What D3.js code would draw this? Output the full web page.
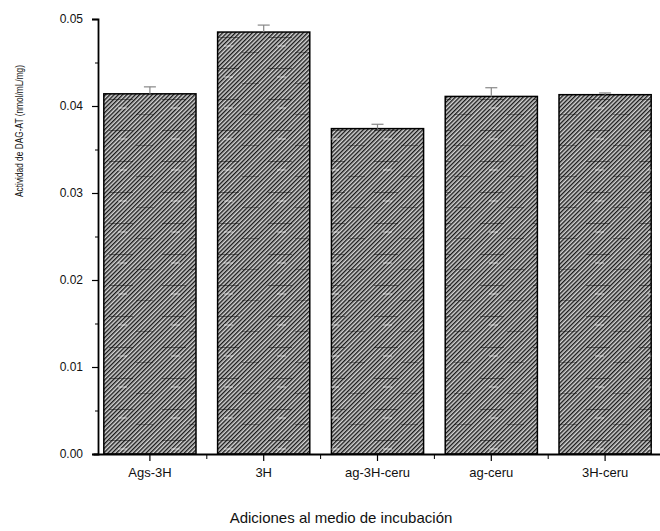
<!DOCTYPE html>
<html>
<head>
<meta charset="utf-8">
<script src="https://cdn.jsdelivr.net/npm/d3@7"></script>
<style>
  body { margin: 0; background: #fff; }
  text { font-family: "Liberation Sans Narrow", "Liberation Sans", Arial, sans-serif; fill: #111; }
</style>
</head>
<body>
<div id="chart"></div>
<script>
// data
var categories = ["Ags-3H", "3H", "ag-3H-ceru", "ag-ceru", "3H-ceru"];
var means = [0.0414, 0.0485, 0.0374, 0.0411, 0.0413];
var errors = [0.0008, 0.0008, 0.0005, 0.0010, 0.0002];
var yTicks = [0, 0.01, 0.02, 0.03, 0.04, 0.05];
var yMinorTicks = [0.005, 0.015, 0.025, 0.035, 0.045];

var width = 660, height = 531;

var svg = d3.select("#chart")
    .append("svg")
    .attr("width", width)
    .attr("height", height);

// hatch like the scan: dense "/" stripes on grey
var defs = svg.append("defs");
var pat = defs.append("pattern")
    .attr("id", "hatch")
    .attr("patternUnits", "userSpaceOnUse")
    .attr("width", 3)
    .attr("height", 3)
    .attr("patternTransform", "rotate(45)");
pat.append("rect").attr("width", 3).attr("height", 3).attr("fill", "#d4d4d4");
pat.append("rect").attr("width", 1.4).attr("height", 3).attr("fill", "#1a1a1a");

// faint horizontal scan streaks
var streaks = defs.append("pattern")
    .attr("id", "streaks")
    .attr("patternUnits", "userSpaceOnUse")
    .attr("width", 53)
    .attr("height", 31);
streaks.append("rect").attr("x", 3).attr("y", 6).attr("width", 24).attr("height", 1).attr("fill", "#000").attr("opacity", 0.45);
streaks.append("rect").attr("x", 30).attr("y", 21).attr("width", 17).attr("height", 1).attr("fill", "#000").attr("opacity", 0.35);
streaks.append("rect").attr("x", 12).attr("y", 14).attr("width", 9).attr("height", 2).attr("fill", "#fff").attr("opacity", 0.35);

var x = d3.scaleBand()
    .domain(categories)
    .range([93, 662])
    .paddingInner(0.19)
    .paddingOuter(0.095);

var y = d3.scaleLinear()
    .domain([0, 0.05])
    .range([454, 19]);

// bars
var bars = svg.selectAll(".bar")
    .data(categories)
    .enter()
    .append("g")
    .attr("class", "bar");

bars.append("rect")
    .attr("x", function(d) { return x(d); })
    .attr("y", function(d, i) { return y(means[i]); })
    .attr("width", x.bandwidth())
    .attr("height", function(d, i) { return y(0) - y(means[i]); })
    .attr("fill", "url(#hatch)")
    .attr("stroke", "#000")
    .attr("stroke-width", 1.5);

bars.append("rect")
    .attr("x", function(d) { return x(d); })
    .attr("y", function(d, i) { return y(means[i]); })
    .attr("width", x.bandwidth())
    .attr("height", function(d, i) { return y(0) - y(means[i]); })
    .attr("fill", "url(#streaks)");

// error bars (faint grey in the scan)
var cap = 6;
bars.append("line")
    .attr("x1", function(d) { return x(d) + x.bandwidth() / 2; })
    .attr("x2", function(d) { return x(d) + x.bandwidth() / 2; })
    .attr("y1", function(d, i) { return y(means[i]); })
    .attr("y2", function(d, i) { return y(means[i] + errors[i]); })
    .attr("stroke", "#888")
    .attr("stroke-width", 1.2);

bars.append("line")
    .attr("x1", function(d) { return x(d) + x.bandwidth() / 2 - cap; })
    .attr("x2", function(d) { return x(d) + x.bandwidth() / 2 + cap; })
    .attr("y1", function(d, i) { return y(means[i] + errors[i]); })
    .attr("y2", function(d, i) { return y(means[i] + errors[i]); })
    .attr("stroke", "#888")
    .attr("stroke-width", 1.2);

// y axis
var yAxis = svg.append("g")
    .attr("transform", "translate(98,0)")
    .call(d3.axisLeft(y)
        .tickValues(yTicks)
        .tickSize(6)
        .tickPadding(9)
        .tickFormat(d3.format(".2f")));
yAxis.select(".domain").attr("stroke", "#000").attr("stroke-width", 1.8);
yAxis.selectAll(".tick line").attr("stroke", "#000").attr("stroke-width", 1.2);
yAxis.selectAll(".tick text")
    .style("font-size", "12px")
    .style("font-family", "'Liberation Sans Narrow', Arial, sans-serif");

svg.append("g")
    .attr("transform", "translate(98,0)")
    .call(d3.axisLeft(y).tickValues(yMinorTicks).tickSize(3).tickFormat(""))
    .call(function(g) { g.select(".domain").remove(); })
    .selectAll("line").attr("stroke", "#000");

// x axis
var xAxis = svg.append("g")
    .attr("transform", "translate(0,454)")
    .call(d3.axisBottom(x).tickSize(7).tickPadding(7).tickSizeOuter(0));
xAxis.select(".domain").attr("stroke", "#000").attr("stroke-width", 1.8);
xAxis.selectAll(".tick line").attr("stroke", "#000").attr("stroke-width", 1.2);
xAxis.selectAll(".tick text")
    .style("font-size", "13px")
    .style("font-family", "'Liberation Sans Narrow', Arial, sans-serif");

// small ticks between the categories
var step = x.step();
svg.append("g")
    .selectAll("line")
    .data(categories.slice(1))
    .enter()
    .append("line")
    .attr("x1", function(d) { return x(d) - (step - x.bandwidth()) / 2; })
    .attr("x2", function(d) { return x(d) - (step - x.bandwidth()) / 2; })
    .attr("y1", 454)
    .attr("y2", 459)
    .attr("stroke", "#000");

// axis titles
svg.append("text")
    .attr("transform", "translate(23,131) rotate(-90)")
    .attr("text-anchor", "middle")
    .attr("textLength", 132)
    .attr("lengthAdjust", "spacingAndGlyphs")
    .style("font-size", "11px")
    .text("Actividad de DAG-AT (nmol/mL/mg)");

svg.append("text")
    .attr("x", 341)
    .attr("y", 523)
    .attr("text-anchor", "middle")
    .style("font-size", "15px")
    .text("Adiciones al medio de incubación");
</script>
</body>
</html>
